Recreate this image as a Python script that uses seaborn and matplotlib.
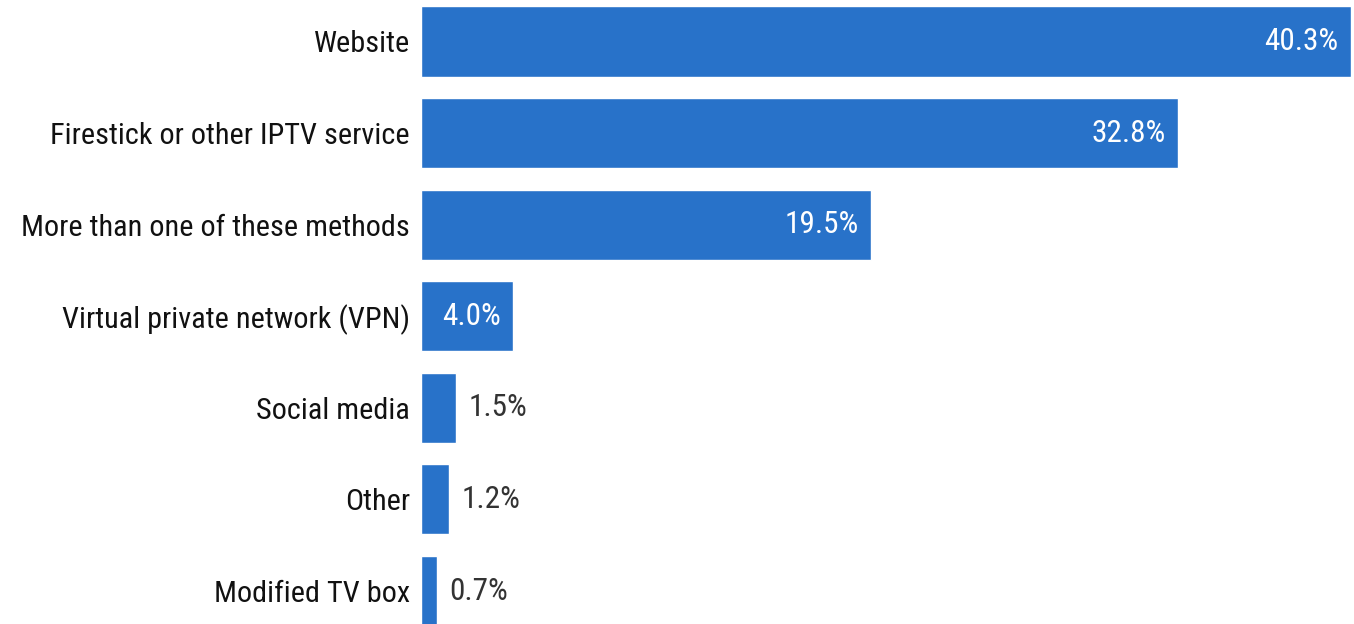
import matplotlib
matplotlib.use("Agg")
import matplotlib.pyplot as plt
from matplotlib import font_manager
import seaborn as sns
import pandas as pd

categories = ["Website", "Firestick or other IPTV service", "More than one of these methods",
              "Virtual private network (VPN)", "Social media", "Other", "Modified TV box"]
values = [40.3, 32.8, 19.5, 4.0, 1.5, 1.2, 0.7]
value_labels = ["40.3%", "32.8%", "19.5%", "4.0%", "1.5%", "1.2%", "0.7%"]

sns.set_theme(style="white")

# pick a condensed face if one exists, else Roboto
chosen = None
for fam in ["Roboto Condensed", "Liberation Sans Narrow", "Open Sans Condensed"]:
    try:
        font_manager.findfont(font_manager.FontProperties(family=fam), fallback_to_default=False)
        chosen = fam
        break
    except Exception:
        pass
if chosen is None:
    chosen = "Roboto"
    csize, vsize, cweight = 19.0, 19.5, "medium"
else:
    csize, vsize, cweight = 21.8, 22.5, "normal"
plt.rcParams['font.family'] = [chosen, 'DejaVu Sans']

df = pd.DataFrame({"cat": categories, "val": values})

fig = plt.figure(figsize=(13.54, 6.24), dpi=100)
ax = fig.add_axes([421/1354, 0, 1 - 421/1354, 1])
sns.barplot(data=df, x="val", y="cat", orient="h", color="#2872C9", saturation=1,
            width=0.765, ax=ax)

ax.set_xlim(0, 40.42)
ax.set_ylim(6.36, -0.453)
ax.set_xlabel("")
ax.set_ylabel("")
ax.set_xticks([])
sns.despine(ax=ax, left=True, bottom=True)
ax.tick_params(axis="y", length=0, pad=8, labelsize=csize, labelcolor="#111111")
for t in ax.get_yticklabels():
    t.set_fontweight(cweight)

for i, (v, lab) in enumerate(zip(values, value_labels)):
    if v > 3:
        ax.annotate(lab, xy=(v, i), xytext=(-9, 0), textcoords="offset points",
                    ha="right", va="center", color="white", fontsize=vsize)
    else:
        ax.annotate(lab, xy=(v, i), xytext=(9, 0), textcoords="offset points",
                    ha="left", va="center", color="#333333", fontsize=vsize)

fig.savefig("out.png", dpi=100)
